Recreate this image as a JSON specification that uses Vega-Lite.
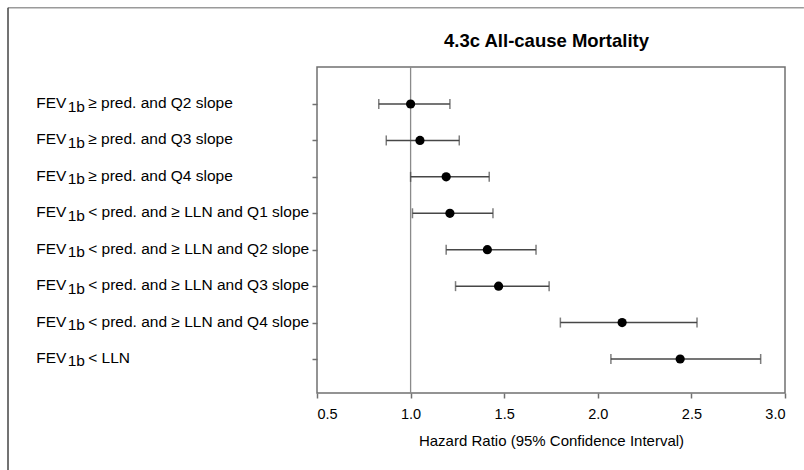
{
  "$schema": "https://vega.github.io/schema/vega-lite/v6.json",
  "width": 468,
  "height": 326,
  "autosize": {"type": "none"},
  "padding": {"left": 317, "top": 67, "right": 19, "bottom": 77},
  "background": "white",
  "config": {
    "view": {"stroke": "#707070", "strokeWidth": 1.5},
    "font": "Liberation Sans",
    "scale": {"continuousPadding": 0}
  },
  "datasets": {
    "rows": [
      {"group": "≥ pred. and Q2 slope", "hr": 1.00, "lo": 0.83, "hi": 1.21},
      {"group": "≥ pred. and Q3 slope", "hr": 1.05, "lo": 0.87, "hi": 1.26},
      {"group": "≥ pred. and Q4 slope", "hr": 1.19, "lo": 1.00, "hi": 1.42},
      {"group": "< pred. and ≥ LLN and Q1 slope", "hr": 1.21, "lo": 1.01, "hi": 1.44},
      {"group": "< pred. and ≥ LLN and Q2 slope", "hr": 1.41, "lo": 1.19, "hi": 1.67},
      {"group": "< pred. and ≥ LLN and Q3 slope", "hr": 1.47, "lo": 1.24, "hi": 1.74},
      {"group": "< pred. and ≥ LLN and Q4 slope", "hr": 2.13, "lo": 1.80, "hi": 2.53},
      {"group": "< LLN", "hr": 2.44, "lo": 2.07, "hi": 2.87}
    ],
    "single": [
      {"title": "4.3c All-cause Mortality"}
    ]
  },
  "data": {"name": "rows"},
  "resolve": {"scale": {"y": "independent"}, "axis": {"y": "independent"}},
  "layer": [
    {
      "data": {"name": "single"},
      "mark": {"type": "rule", "color": "#8a8a8a", "strokeWidth": 1.3},
      "encoding": {
        "x": {"datum": 1, "type": "quantitative", "scale": {"domain": [0.5, 3.0], "nice": false, "zero": false, "padding": 0}}
      }
    },
    {
      "mark": {"type": "rule", "color": "#474747", "strokeWidth": 1.5, "yOffset": 1.5},
      "encoding": {
        "y": {
          "field": "group", "type": "nominal", "sort": null,
          "scale": {"type": "point", "padding": 0.975},
          "axis": {"labels": false, "title": null, "ticks": true, "tickSize": 5, "tickColor": "#707070", "tickWidth": 1.5, "tickOffset": 1.5, "domain": false, "grid": false, "orient": "left"}
        },
        "x": {
          "field": "lo", "type": "quantitative",
          "scale": {"domain": [0.5, 3.0], "nice": false, "zero": false, "padding": 0},
          "axis": {
            "values": [0.5, 1.0, 1.5, 2.0, 2.5, 3.0],
            "format": ".1f",
            "title": "Hazard Ratio (95% Confidence Interval)",
            "domain": false, "grid": false,
            "ticks": true, "tickSize": 5, "tickColor": "#707070", "tickWidth": 1.5,
            "labelFontSize": 14.5, "labelColor": "black", "labelPadding": 9, "labelFont": "Liberation Sans",
            "titleFontSize": 15, "titleFontWeight": "normal", "titleColor": "black", "titlePadding": 13, "titleFont": "Liberation Sans"
          }
        },
        "x2": {"field": "hi"}
      }
    },
    {
      "mark": {"type": "tick", "color": "#474747", "thickness": 1.5, "size": 10, "yOffset": 1.5},
      "encoding": {
        "y": {"field": "group", "type": "nominal", "sort": null, "scale": {"type": "point", "padding": 0.975}, "axis": null},
        "x": {"field": "lo", "type": "quantitative", "scale": {"domain": [0.5, 3.0], "nice": false, "zero": false, "padding": 0}}
      }
    },
    {
      "mark": {"type": "tick", "color": "#474747", "thickness": 1.5, "size": 10, "yOffset": 1.5},
      "encoding": {
        "y": {"field": "group", "type": "nominal", "sort": null, "scale": {"type": "point", "padding": 0.975}, "axis": null},
        "x": {"field": "hi", "type": "quantitative", "scale": {"domain": [0.5, 3.0], "nice": false, "zero": false, "padding": 0}}
      }
    },
    {
      "mark": {"type": "circle", "size": 85, "color": "black", "opacity": 1, "yOffset": 1.5},
      "encoding": {
        "y": {"field": "group", "type": "nominal", "sort": null, "scale": {"type": "point", "padding": 0.975}, "axis": null},
        "x": {"field": "hr", "type": "quantitative", "scale": {"domain": [0.5, 3.0], "nice": false, "zero": false, "padding": 0}}
      }
    },
    {
      "mark": {"type": "text", "text": "FEV", "align": "left", "baseline": "middle", "fontSize": 15.5, "color": "black", "font": "Liberation Sans", "yOffset": 0.5},
      "encoding": {
        "y": {"field": "group", "type": "nominal", "sort": null, "scale": {"type": "point", "padding": 0.975}, "axis": null},
        "x": {"datum": -1.0, "type": "quantitative"}
      }
    },
    {
      "mark": {"type": "text", "text": "1b", "align": "left", "baseline": "middle", "fontSize": 15.5, "color": "black", "font": "Liberation Sans", "dx": 31.5, "yOffset": 4},
      "encoding": {
        "y": {"field": "group", "type": "nominal", "sort": null, "scale": {"type": "point", "padding": 0.975}, "axis": null},
        "x": {"datum": -1.0, "type": "quantitative"}
      }
    },
    {
      "mark": {"type": "text", "align": "left", "baseline": "middle", "fontSize": 15.5, "color": "black", "font": "Liberation Sans", "dx": 52, "yOffset": 0.5},
      "encoding": {
        "y": {"field": "group", "type": "nominal", "sort": null, "scale": {"type": "point", "padding": 0.975}, "axis": null},
        "x": {"datum": -1.0, "type": "quantitative"},
        "text": {"field": "group"}
      }
    },
    {
      "data": {"name": "single"},
      "mark": {"type": "text", "align": "center", "baseline": "alphabetic", "fontSize": 18.5, "fontWeight": "bold", "color": "black", "font": "Liberation Sans"},
      "encoding": {
        "x": {"datum": 1.726, "type": "quantitative"},
        "y": {"datum": 1.0604, "type": "quantitative", "scale": {"domain": [0, 1], "nice": false, "zero": false}, "axis": null},
        "text": {"field": "title"}
      }
    },
    {
      "data": {"name": "single"},
      "mark": {"type": "rule", "color": "#9a9a9a", "strokeWidth": 1.5},
      "encoding": {
        "x": {"datum": -1.1506, "type": "quantitative"},
        "x2": {"datum": 3.101},
        "y": {"datum": 1.182, "type": "quantitative", "scale": {"domain": [0, 1], "nice": false, "zero": false}, "axis": null}
      }
    },
    {
      "data": {"name": "single"},
      "mark": {"type": "rule", "color": "#444444", "strokeWidth": 1.5},
      "encoding": {
        "x": {"datum": -1.1506, "type": "quantitative"},
        "y": {"datum": 1.182, "type": "quantitative", "scale": {"domain": [0, 1], "nice": false, "zero": false}, "axis": null},
        "y2": {"datum": -0.25}
      }
    }
  ]
}
